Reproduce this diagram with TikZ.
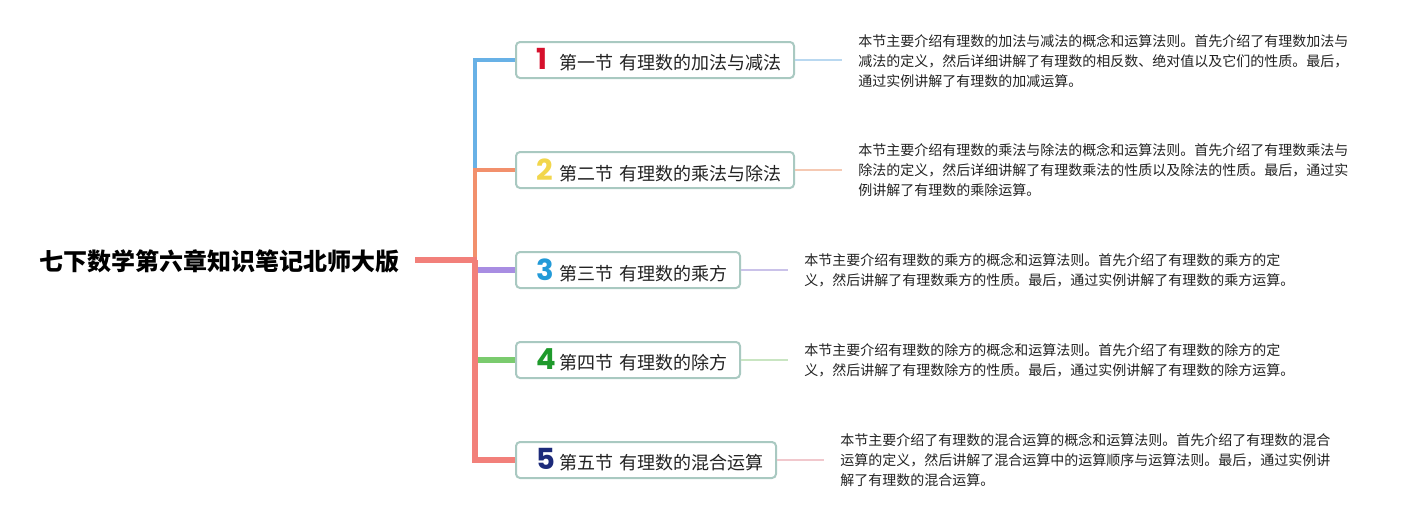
\documentclass[tikz,border=0pt]{standalone}
\usepackage{fontspec}
\newfontfamily\cjk{Noto Sans CJK SC}
\newfontfamily\digitf{Poppins}
\definecolor{boxc}{HTML}{A9C9C1}
\definecolor{txt}{HTML}{222222}
\definecolor{cblue}{HTML}{68B1E6}
\definecolor{corange}{HTML}{F2906C}
\definecolor{cpurple}{HTML}{A88DE2}
\definecolor{cgreen}{HTML}{7ACB6E}
\definecolor{csalmon}{HTML}{F2807A}
\definecolor{lblue}{HTML}{B9D8F0}
\definecolor{lorange}{HTML}{F5C9B3}
\definecolor{lpurple}{HTML}{CAC2E9}
\definecolor{lgreen}{HTML}{C9E5C2}
\definecolor{lpink}{HTML}{F1C8CD}
\definecolor{dred}{HTML}{D6102C}
\definecolor{dyellow}{HTML}{F2D64B}
\definecolor{dblue}{HTML}{229AD8}
\definecolor{dgreen}{HTML}{1F9A2C}
\definecolor{dnavy}{HTML}{1C2A7A}
\newcommand{\dg}[2]{\hspace*{10pt}\makebox[11.5pt][l]{\digitf\bfseries\fontsize{14.5}{14}\selectfont\textcolor{#1}{#2}}}
\tikzset{
  sect/.style={draw=boxc, line width=1pt, rounded corners=2pt, fill=white,
    minimum height=18pt, inner xsep=0pt, inner ysep=0pt, align=left, anchor=west,
    font=\cjk\fontsize{9}{11}\selectfont, text=txt},
  desc/.style={anchor=west, inner sep=0pt, align=left,
    font=\cjk\fontsize{7}{9.8}\selectfont, text=txt},
  rootn/.style={anchor=east, inner xsep=7.5pt, inner ysep=0pt,
    font=\cjk\bfseries\fontsize{12}{14}\selectfont, text=black},
  thin/.style={line width=0.75pt, shorten >=8pt}
}
\begin{document}
\begin{tikzpicture}[x=0.5pt,y=-0.5pt]
\useasboundingbox (0,0) rectangle (1418,520);
\node[rootn] (root) at (415,261) {七下数学第六章知识笔记北师大版};
\coordinate (j) at (475,260);
\node[sect, text width=139pt] (b1) at (515,60) {\dg{dred}{1}第一节 有理数的加法与减法};
\node[sect, text width=139pt] (b2) at (515,170) {\dg{dyellow}{2}第二节 有理数的乘法与除法};
\node[sect, text width=112pt] (b3) at (515,270) {\dg{dblue}{3}第三节 有理数的乘方};
\node[sect, text width=112pt] (b4) at (515,360) {\dg{dgreen}{4}第四节 有理数的除方};
\node[sect, text width=130pt] (b5) at (515,460) {\dg{dnavy}{5}第五节 有理数的混合运算};
\node[desc] (d1) at (858,61) {本节主要介绍有理数的加法与减法的概念和运算法则。首先介绍了有理数加法与\\减法的定义，然后详细讲解了有理数的相反数、绝对值以及它们的性质。最后，\\通过实例讲解了有理数的加减运算。};
\node[desc] (d2) at (858,170) {本节主要介绍有理数的乘法与除法的概念和运算法则。首先介绍了有理数乘法与\\除法的定义，然后详细讲解了有理数乘法的性质以及除法的性质。最后，通过实\\例讲解了有理数的乘除运算。};
\node[desc] (d3) at (804,270) {本节主要介绍有理数的乘方的概念和运算法则。首先介绍了有理数的乘方的定\\义，然后讲解了有理数乘方的性质。最后，通过实例讲解了有理数的乘方运算。};
\node[desc] (d4) at (804,360) {本节主要介绍有理数的除方的概念和运算法则。首先介绍了有理数的除方的定\\义，然后讲解了有理数除方的性质。最后，通过实例讲解了有理数的除方运算。};
\node[desc] (d5) at (840,460) {本节主要介绍了有理数的混合运算的概念和运算法则。首先介绍了有理数的混合\\运算的定义，然后讲解了混合运算中的运算顺序与运算法则。最后，通过实例讲\\解了有理数的混合运算。};
\draw[cblue, line width=2.4pt] (j) |- (b1.west);
\draw[corange, line width=1.6pt] (j) |- (b2.west);
\draw[cpurple, line width=3pt] (j) |- (b3.west);
\draw[cgreen, line width=3pt] (j) |- (b4.west);
\draw[csalmon, line width=3pt] (j) |- (b5.west);
\draw[csalmon, line width=3pt] (root.east |- j) -- ([xshift=0.75pt]j);
\draw[thin, lblue] (b1.east) -- (d1.west |- b1.east);
\draw[thin, lorange] (b2.east) -- (d2.west |- b2.east);
\draw[thin, lpurple] (b3.east) -- (d3.west |- b3.east);
\draw[thin, lgreen] (b4.east) -- (d4.west |- b4.east);
\draw[thin, lpink] (b5.east) -- (d5.west |- b5.east);
\end{tikzpicture}
\end{document}
